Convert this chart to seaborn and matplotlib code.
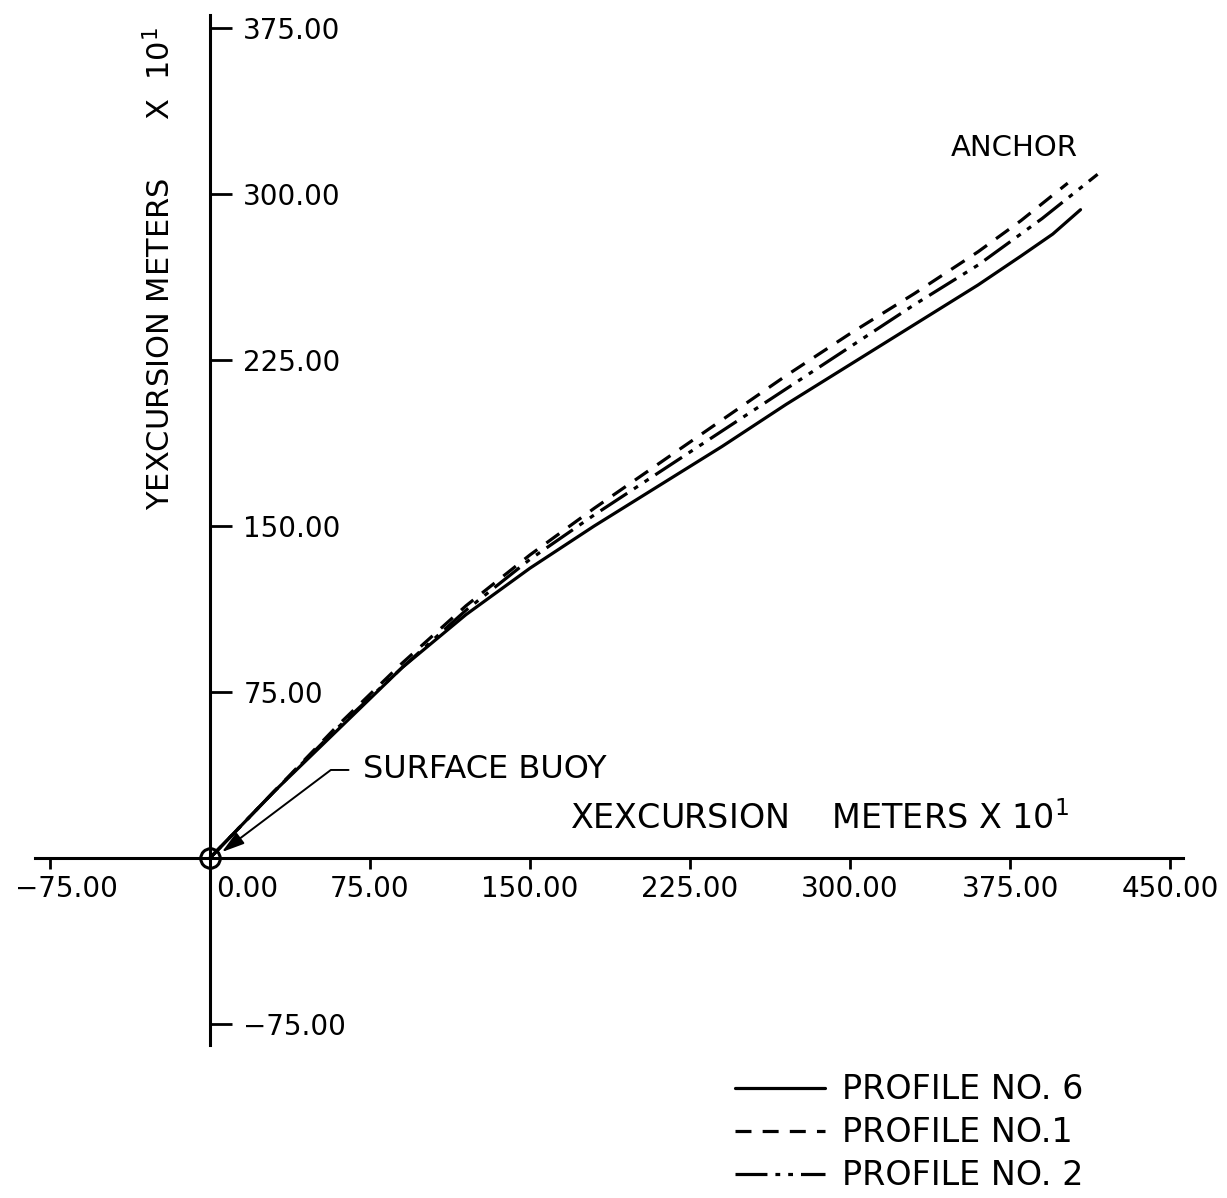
import matplotlib
matplotlib.use("Agg")
import matplotlib.pyplot as plt
import matplotlib.transforms as mtransforms
import seaborn as sns
import pandas as pd

# ---- data ----
p6_x = [0, 10, 30, 60, 90, 120, 150, 180, 210, 240, 270, 300, 330, 360, 380, 395, 408]
p6_y = [0, 10, 30, 58, 86, 110, 131, 150, 168, 186, 205, 223, 241, 259, 272, 282, 293]

p1_x = [0, 30, 60, 90, 120, 150, 180, 210, 240, 270, 300, 330, 360, 380, 402]
p1_y = [0, 30, 60, 88, 114, 137, 158, 178, 198, 218, 237, 255, 274, 288, 305]

p2_x = [0, 30, 60, 90, 120, 150, 180, 210, 240, 270, 300, 330, 360, 390, 416]
p2_y = [0, 30, 59, 86, 112, 135, 155, 174, 193, 212, 231, 250, 268, 289, 309]

profile_names = ["PROFILE NO. 6", "PROFILE NO.1", "PROFILE NO. 2"]
x_ticks = [-75, 0, 75, 150, 225, 300, 375, 450]
y_ticks = [-75, 75, 150, 225, 300, 375]
buoy_x = [0]
buoy_y = [0]

frames = []
for name, xs, ys in zip(profile_names, [p6_x, p1_x, p2_x], [p6_y, p1_y, p2_y]):
    frames.append(pd.DataFrame({"x": xs, "y": ys, "profile": name}))
df = pd.concat(frames, ignore_index=True)

sns.set_style("white")
plt.rcParams["font.family"] = ["DejaVu Sans"]
plt.rcParams["text.color"] = "black"
plt.rcParams["axes.labelcolor"] = "black"
plt.rcParams["xtick.color"] = "black"
plt.rcParams["ytick.color"] = "black"


def fmt(v):
    s = f"{abs(v):.2f}"
    return ("\u2212" + s) if v < 0 else s


fig = plt.figure(figsize=(12.27, 11.98), dpi=100)
ax = fig.add_axes([0.0285, 0.1277, 0.9356, 0.8598])

dashes = {
    "PROFILE NO. 6": "",
    "PROFILE NO.1": (5, 3.5),
    "PROFILE NO. 2": (10, 2.5, 1.5, 2.5, 1.5, 2.5),
}
sns.lineplot(data=df, x="x", y="y", hue="profile", style="profile",
             palette=["black"] * 3, dashes=dashes, estimator=None, sort=False,
             linewidth=2.3, ax=ax)

ax.plot(buoy_x, buoy_y, "o", mfc="none", mec="black", ms=14, mew=2.2, zorder=5)

ax.set_xlim(-82, 456)
ax.set_ylim(-84.5, 381)

for s in ["top", "right"]:
    ax.spines[s].set_visible(False)
ax.spines["left"].set_position(("data", 0))
ax.spines["bottom"].set_position(("data", 0))
for s in ["left", "bottom"]:
    ax.spines[s].set_linewidth(2.2)
    ax.spines[s].set_color("black")

ax.set_xticks(x_ticks)
ax.set_xticklabels([fmt(v) for v in x_ticks])
ax.set_yticks(y_ticks)
ax.set_yticklabels([fmt(v) for v in y_ticks])

ax.tick_params(axis="x", bottom=True, direction="out", length=8, width=2,
               labelsize=20, pad=4, colors="black")
ax.tick_params(axis="y", left=True, direction="in", length=16, width=2,
               labelsize=20, pad=-24, colors="black")
for lbl in ax.get_yticklabels():
    lbl.set_horizontalalignment("left")
for lbl, v in zip(ax.get_xticklabels(), x_ticks):
    if v == 0:
        lbl.set_horizontalalignment("left")
        lbl.set_transform(lbl.get_transform() +
                          mtransforms.ScaledTranslation(0.06, 0, fig.dpi_scale_trans))
    if v == -75:
        lbl.set_transform(lbl.get_transform() +
                          mtransforms.ScaledTranslation(0.17, 0, fig.dpi_scale_trans))
ax.xaxis.get_major_ticks()[1].tick1line.set_visible(False)

ax.set_xlabel("")
ax.set_ylabel("")
leg = ax.get_legend()
handles, labels = ax.get_legend_handles_labels()
if leg is not None:
    leg.remove()

ax.text(168.8, 18, "XEXCURSION    METERS X 10$^{1}$", fontsize=24,
        ha="left", va="center", color="black")
ax.text(-23.4, 266.6, "YEXCURSION METERS      X  10$^{1}$", fontsize=22,
        ha="center", va="center", rotation=90, color="black")
ax.text(377, 321, "ANCHOR", fontsize=21, ha="center", va="center", color="black")

ax.annotate("SURFACE BUOY", xy=(5.6, 2.7), xytext=(71.7, 39.8), fontsize=23,
            ha="left", va="center", color="black",
            arrowprops=dict(arrowstyle="-|>,head_length=0.6,head_width=0.18",
                            connectionstyle="angle,angleA=0,angleB=37,rad=0",
                            color="black", lw=1.4, shrinkA=8, shrinkB=0))

fig.legend(handles, labels, loc="center left", bbox_to_anchor=(0.599, 0.0543),
           bbox_transform=fig.transFigure, frameon=False, fontsize=24,
           handlelength=2.7, handletextpad=0.5, labelspacing=0.3,
           borderpad=0, borderaxespad=0, labelcolor="black")

fig.savefig("out.png", dpi=100, facecolor="white")
